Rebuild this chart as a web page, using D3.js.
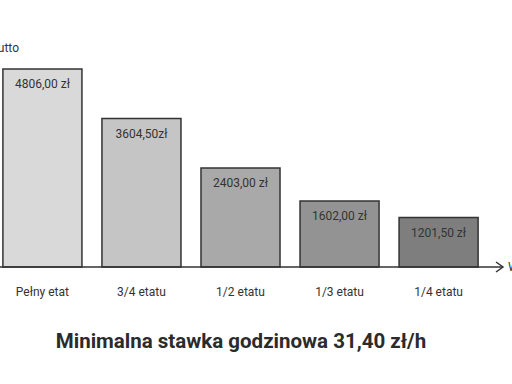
<!DOCTYPE html>
<html>
<head>
<meta charset="utf-8">
<script src="https://cdn.jsdelivr.net/npm/d3@7"></script>
<style>
  body { margin: 0; background: #fff; }
  svg { display: block; font-family: Roboto, "Noto Sans", sans-serif; }
</style>
</head>
<body>
<div id="chart"></div>
<script>
// dane z wykresu
var categories = ["Pełny etat", "3/4 etatu", "1/2 etatu", "1/3 etatu", "1/4 etatu"];
var values = [4806.00, 3604.50, 2403.00, 1602.00, 1201.50];
var valueLabels = ["4806,00 zł", "3604,50zł", "2403,00 zł", "1602,00 zł", "1201,50 zł"];
var barColors = ["#d9d9d9", "#c5c5c5", "#a9a9a9", "#939393", "#7e7e7e"];

var w = 512;
var h = 384;
var baseY = 267;

var svg = d3.select("#chart")
    .append("svg")
    .attr("width", w)
    .attr("height", h);

var x = d3.scaleBand()
    .domain(categories)
    .range([-7, 488])
    .paddingInner(20 / 99)
    .paddingOuter(0.1);

var y = d3.scaleLinear()
    .domain([0, 4806])
    .range([baseY, 69]);

var data = categories.map(function (c, i) {
    return { cat: c, val: values[i], label: valueLabels[i], color: barColors[i] };
});

// slupki
svg.selectAll("rect.bar")
    .data(data)
    .enter()
    .append("rect")
    .attr("class", "bar")
    .attr("x", function (d) { return x(d.cat); })
    .attr("y", function (d) { return y(d.val); })
    .attr("width", x.bandwidth())
    .attr("height", function (d) { return baseY - y(d.val); })
    .attr("fill", function (d) { return d.color; })
    .attr("stroke", "#333")
    .attr("stroke-width", 1.5);

// etykiety wartosci
svg.selectAll("text.val")
    .data(data)
    .enter()
    .append("text")
    .attr("class", "val")
    .attr("x", function (d) { return x(d.cat) + x.bandwidth() / 2; })
    .attr("y", function (d) { return y(d.val) + 19; })
    .attr("text-anchor", "middle")
    .attr("font-size", 12)
    .attr("fill", "#333")
    .text(function (d) { return d.label; });

// os x
svg.append("line")
    .attr("x1", -10).attr("x2", 503)
    .attr("y1", baseY).attr("y2", baseY)
    .attr("stroke", "#333")
    .attr("stroke-width", 1.5);

svg.append("path")
    .attr("d", "M496,262 L503,267 L496,272")
    .attr("fill", "none")
    .attr("stroke", "#333")
    .attr("stroke-width", 1.5);

// os y (poza kadrem)
svg.append("line")
    .attr("x1", -2).attr("x2", -2)
    .attr("y1", 30).attr("y2", baseY)
    .attr("stroke", "#333")
    .attr("stroke-width", 1.5);

svg.append("text")
    .attr("x", 19)
    .attr("y", 52)
    .attr("text-anchor", "end")
    .attr("font-size", 12)
    .attr("fill", "#333")
    .text("Wynagrodzenie brutto");

svg.append("text")
    .attr("x", 508)
    .attr("y", 271)
    .attr("font-size", 12)
    .attr("fill", "#333")
    .text("Wymiar etatu");

// kategorie
svg.selectAll("text.cat")
    .data(data)
    .enter()
    .append("text")
    .attr("class", "cat")
    .attr("x", function (d) { return x(d.cat) + x.bandwidth() / 2; })
    .attr("y", 296)
    .attr("text-anchor", "middle")
    .attr("font-size", 12)
    .attr("fill", "#333")
    .text(function (d) { return d.cat; });

// tytul
svg.append("text")
    .attr("x", 241)
    .attr("y", 348)
    .attr("text-anchor", "middle")
    .attr("font-size", 20.5)
    .attr("font-weight", "bold")
    .attr("fill", "#2b2b2b")
    .text("Minimalna stawka godzinowa 31,40 zł/h");
</script>
</body>
</html>
